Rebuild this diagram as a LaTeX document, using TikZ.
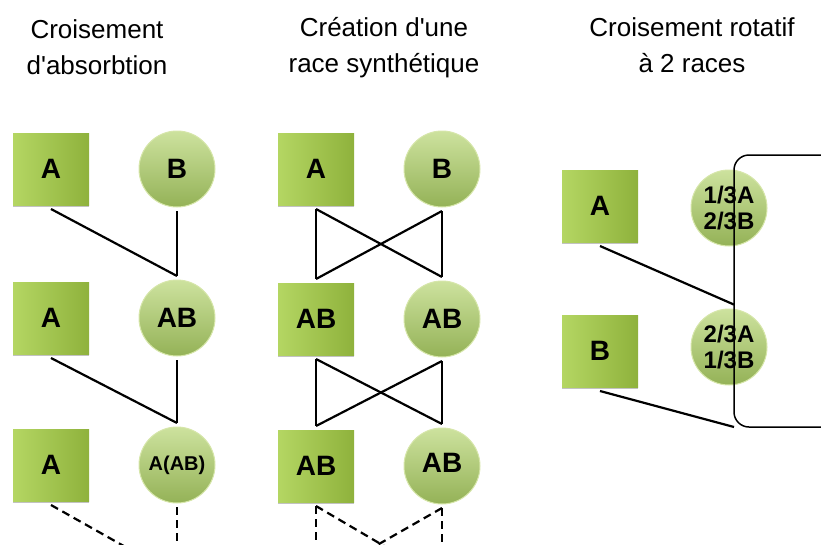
\documentclass[tikz,border=0pt]{standalone}
\usepackage{fontspec}
\setmainfont{Liberation Sans}
\usetikzlibrary{positioning, shadows, calc}
\definecolor{SquareLight}{HTML}{B4D663}
\definecolor{SquareDark}{HTML}{8FB23C}
\definecolor{BallTop}{HTML}{CDE29E}
\definecolor{BallBottom}{HTML}{94B257}
\definecolor{BallRim}{HTML}{D6E6AA}

\begin{document}
\begin{tikzpicture}[x=1pt, y=-1pt,
    pure/.style={rectangle, left color=SquareLight, right color=SquareDark,
        minimum width=76pt, minimum height=72pt, inner sep=0pt, outer sep=4pt,
        font=\fontsize{28}{30}\selectfont\bfseries,
        drop shadow={shadow xshift=0pt, shadow yshift=-2pt, fill=black!40, opacity=0.6}},
    ball/.style={circle, top color=BallTop, bottom color=BallBottom, draw=BallRim,
        line width=1pt, minimum size=76pt, inner sep=0pt, outer sep=4pt, align=center,
        font=\fontsize{28}{30}\selectfont\bfseries},
    frac/.style={font=\fontsize{24}{26}\selectfont\bfseries},
    title/.style={font=\fontsize{26}{36}\selectfont, align=center, anchor=north, inner sep=0pt},
    link/.style={line width=2.2pt},
    next/.style={link, dash pattern=on 8pt off 5pt}]
    \useasboundingbox (0,0) rectangle (821,544);

    % Titles
    \node[title] (t1) at (97, 19) {Croisement\\d\textquotesingle absorbtion};
    \node[title] (t2) at (384, 17) {Création d\textquotesingle une\\race synthétique};
    \node[title] (t3) at (692, 17) {Croisement rotatif\\à 2 races};

    % Croisement d'absorbtion
    \node[pure] (a1) at (51, 169) {A};
    \node[ball, right=42pt of a1] (b1) {B};
    \node[pure] (a2) at (51, 318) {A};
    \node[ball, right=42pt of a2] (ab1) {AB};
    \node[pure] (a3) at (51, 465) {A};
    \node[ball, right=42pt of a3, font=\fontsize{20}{22}\selectfont\bfseries] (aab) {A(AB)};
    \coordinate (aabnext) at (177, 576);

    \draw[link] (a1.south) -- (ab1.north);
    \draw[link] (b1.south) -- (ab1.north);
    \draw[link] (a2.south) -- (aab.north);
    \draw[link] (ab1.south) -- (aab.north);
    \draw[next] (a3.south) -- (aabnext);
    \draw[next] (aab.south) -- (aabnext);

    % Creation d'une race synthetique
    \node[pure] (sa) at (316, 169) {A};
    \node[ball, right=42pt of sa] (sb) {B};
    \node[pure] (sab1) at (316, 319) {AB};
    \node[ball, right=42pt of sab1] (cab1) {AB};
    \node[pure] (sab2) at (316, 466) {AB};
    \node[ball, right=42pt of sab2] (cab2) {\raisebox{7pt}{AB}};
    \coordinate (snext) at (316, 580);
    \coordinate (cnext) at (442, 580);

    \draw[link] (sa.south) -- (sab1.north);
    \draw[link] (sa.south) -- (cab1.north);
    \draw[link] (sb.south) -- (cab1.north);
    \draw[link] (sb.south) -- (sab1.north);
    \draw[link] (sab1.south) -- (sab2.north);
    \draw[link] (sab1.south) -- (cab2.north);
    \draw[link] (cab1.south) -- (cab2.north);
    \draw[link] (cab1.south) -- (sab2.north);
    \draw[next] (sab2.south) -- (snext);
    \draw[next] (sab2.south) -- (cnext);
    \draw[next] (cab2.south) -- (cnext);
    \draw[next] (cab2.south) -- (snext);

    % Croisement rotatif a 2 races
    \node[pure] (ra) at (600, 206) {A};
    \node[ball, frac, right=45pt of ra, yshift=-2pt] (r1) {1/3A\\2/3B};
    \node[pure] (rb) at (600, 351) {B};
    \node[ball, frac, right=45pt of rb, yshift=4pt] (r2) {2/3A\\1/3B};
    \node[draw, rounded corners=15pt, line width=1.5pt, minimum width=110pt,
          minimum height=272pt, anchor=north west, inner sep=0pt, outer sep=0pt]
          (loop) at (734, 155) {};
    \coordinate (entry) at ($(loop.north west)!0.55!(loop.south west)$);

    \draw[link] (ra.south) -- (entry);
    \draw[link] (rb.south) -- (loop.south west);
\end{tikzpicture}
\end{document}
